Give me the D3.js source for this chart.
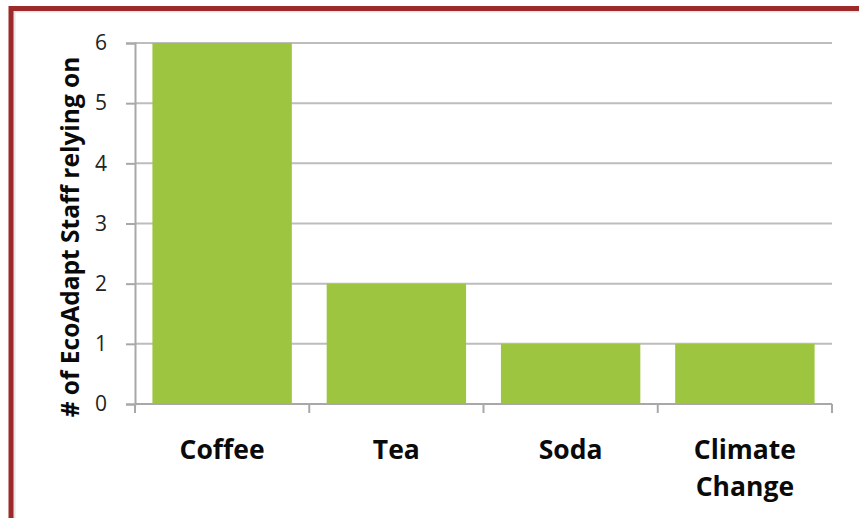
<!DOCTYPE html>
<html>
<head>
<meta charset="utf-8">
<script src="https://cdn.jsdelivr.net/npm/d3@7"></script>
<style>
  body { margin: 0; background: #fff; }
  svg { display: block; }
</style>
</head>
<body>
<script>
const categories = ["Coffee", "Tea", "Soda", "Climate Change"];
const staffCounts = [6, 2, 1, 1];
const yTicks = [0, 1, 2, 3, 4, 5, 6];
const yTitle = "# of EcoAdapt Staff relying on";

const baseWidth = 859,
  baseHeight = 518;
const margin = { top: 43, right: 27, bottom: 114, left: 135 };
const width = baseWidth - margin.left - margin.right;
const height = baseHeight - margin.top - margin.bottom;

const svg = d3
  .select("body")
  .append("svg")
  .attr("width", baseWidth)
  .attr("height", baseHeight);

// frame round the picture (only top and left edges show)
svg
  .append("rect")
  .attr("x", 14)
  .attr("y", 11)
  .attr("width", baseWidth)
  .attr("height", baseHeight)
  .attr("fill", "none")
  .attr("stroke", "#e4e4e4")
  .attr("stroke-width", 3);
svg
  .append("rect")
  .attr("x", 11)
  .attr("y", 8.5)
  .attr("width", baseWidth)
  .attr("height", baseHeight)
  .attr("fill", "none")
  .attr("stroke", "#9c2a2a")
  .attr("stroke-width", 5);

const x = d3
  .scaleBand()
  .domain(categories)
  .range([0, width])
  .paddingInner(0.2)
  .paddingOuter(0.1);

const y = d3.scaleLinear().domain([0, 6]).range([height, 0]);

const chart = svg
  .append("g")
  .attr("transform", "translate(" + margin.left + "," + margin.top + ")");

// gridlines
chart
  .append("g")
  .selectAll("line")
  .data(yTicks.filter((d) => d > 0))
  .enter()
  .append("line")
  .attr("x1", 0)
  .attr("x2", width)
  .attr("y1", (d) => y(d))
  .attr("y2", (d) => y(d))
  .attr("stroke", "#bdbdbd")
  .attr("stroke-width", 2);

// bars
chart
  .append("g")
  .selectAll("rect")
  .data(categories)
  .enter()
  .append("rect")
  .attr("x", (d) => x(d))
  .attr("width", x.bandwidth())
  .attr("y", (d, i) => y(staffCounts[i]))
  .attr("height", (d, i) => height - y(staffCounts[i]))
  .attr("fill", "#9dc53f");

// y axis
const yAxis = chart
  .append("g")
  .call(d3.axisLeft(y).tickValues(yTicks).tickSize(9).tickPadding(19).tickFormat(d3.format("d")));
yAxis.select(".domain").attr("stroke", "#a8a8a8").attr("stroke-width", 2);
yAxis.selectAll(".tick line").attr("stroke", "#a8a8a8").attr("stroke-width", 2);
yAxis
  .selectAll(".tick text")
  .attr("fill", "#222")
  .style("font-family", "'Open Sans', sans-serif")
  .style("font-size", "21px");

// x axis line and category ticks at band edges
chart
  .append("line")
  .attr("x1", 0)
  .attr("x2", width)
  .attr("y1", height)
  .attr("y2", height)
  .attr("stroke", "#a8a8a8")
  .attr("stroke-width", 2);
const edges = categories.map((d) => x(d) - (x.step() - x.bandwidth()) / 2).concat([width]);
chart
  .append("g")
  .selectAll("line")
  .data(edges)
  .enter()
  .append("line")
  .attr("x1", (d) => d)
  .attr("x2", (d) => d)
  .attr("y1", height)
  .attr("y2", height + 9)
  .attr("stroke", "#a8a8a8")
  .attr("stroke-width", 2);

// category labels, wrapped on spaces for long names
chart
  .append("g")
  .selectAll("text")
  .data(categories)
  .enter()
  .append("text")
  .attr("text-anchor", "middle")
  .attr("fill", "#0a0a0a")
  .style("font-family", "'Open Sans', sans-serif")
  .style("font-weight", "bold")
  .style("font-size", "26.5px")
  .each(function (d) {
    const cx = x(d) + x.bandwidth() / 2;
    const words = d.length > 10 ? d.split(" ") : [d];
    words.forEach((w, i) => {
      d3.select(this)
        .append("tspan")
        .attr("x", cx)
        .attr("y", height + 55 + i * 37)
        .text(w);
    });
  });

// y axis title
svg
  .append("text")
  .attr("transform", "translate(79," + 237 + ") rotate(-90)")
  .attr("text-anchor", "middle")
  .attr("fill", "#0a0a0a")
  .style("font-family", "'Open Sans', sans-serif")
  .style("font-weight", "bold")
  .style("font-size", "24.5px")
  .text(yTitle);
</script>
</body>
</html>
